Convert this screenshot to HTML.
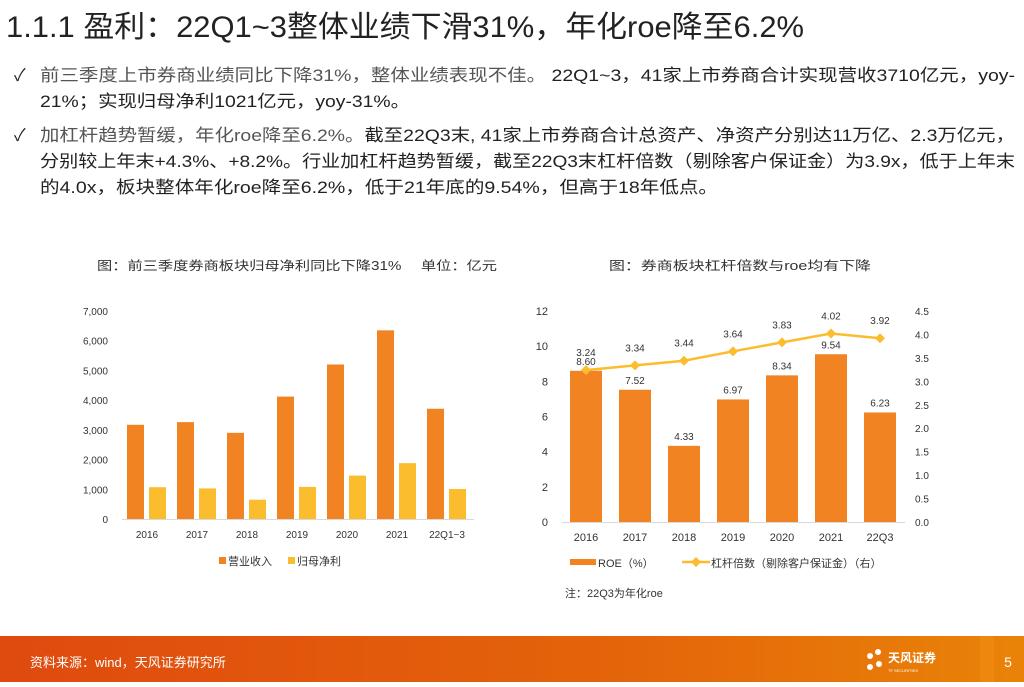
<!DOCTYPE html>
<html><head><meta charset="utf-8"><style>
body{margin:0;background:#fff;width:1024px;height:682px;overflow:hidden;font-family:"Liberation Sans","Noto Sans CJK SC",sans-serif}
svg text{font-family:"Liberation Sans","Noto Sans CJK SC",sans-serif}
</style></head><body>
<svg id="s" width="1024" height="682" viewBox="0 0 1024 682" xmlns="http://www.w3.org/2000/svg">
<defs><linearGradient id="fg" x1="0" x2="1"><stop offset="0" stop-color="#df4a0f"/><stop offset="0.6" stop-color="#e4640a"/><stop offset="1" stop-color="#e98308"/></linearGradient></defs>
<text x="6" y="37" font-size="30" fill="#222" textLength="798" lengthAdjust="spacingAndGlyphs">1.1.1 盈利：22Q1~3整体业绩下滑31%，年化roe降至6.2%</text>
<g font-size="17" fill="#222">
<text x="14" y="81">✓</text>
<text x="40" y="81" textLength="975" lengthAdjust="spacingAndGlyphs"><tspan fill="#555">前三季度上市券商业绩同比下降31%，整体业绩表现不佳。</tspan> 22Q1~3，41家上市券商合计实现营收3710亿元，yoy-</text>
<text x="40" y="107" textLength="370" lengthAdjust="spacingAndGlyphs">21%；实现归母净利1021亿元，yoy-31%。</text>
<text x="14" y="141">✓</text>
<text x="40" y="141" textLength="975" lengthAdjust="spacingAndGlyphs"><tspan fill="#555">加杠杆趋势暂缓，年化roe降至6.2%。</tspan>截至22Q3末, 41家上市券商合计总资产、净资产分别达11万亿、2.3万亿元，</text>
<text x="40" y="167" textLength="975" lengthAdjust="spacingAndGlyphs">分别较上年末+4.3%、+8.2%。行业加杠杆趋势暂缓，截至22Q3末杠杆倍数（剔除客户保证金）为3.9x，低于上年末</text>
<text x="40" y="193" textLength="678" lengthAdjust="spacingAndGlyphs">的4.0x，板块整体年化roe降至6.2%，低于21年底的9.54%，但高于18年低点。</text>
</g>
<text x="97" y="270" font-size="12.5" fill="#333" textLength="400" lengthAdjust="spacingAndGlyphs">图：前三季度券商板块归母净利同比下降31%　 单位：亿元</text>
<text x="609" y="270" font-size="12.5" fill="#333" textLength="262" lengthAdjust="spacingAndGlyphs">图：券商板块杠杆倍数与roe均有下降</text>
<g id="c1"></g>
<g id="c2"></g>
<rect x="0" y="636" width="1024" height="46" fill="url(#fg)"/>
<rect x="980" y="636" width="14" height="46" fill="#f08a10" opacity="0.7"/>
<text x="30" y="667" font-size="13" fill="#fff">资料来源：wind，天风证券研究所</text>
<g><circle cx="870" cy="656" r="3" fill="#fff"/><circle cx="878" cy="652" r="3" fill="#fff"/><circle cx="870" cy="667" r="3" fill="#fff"/><circle cx="879" cy="664" r="3" fill="#fff"/>
<text x="888" y="662" font-size="12" fill="#fff" font-weight="bold">天风证券</text><text x="888" y="672" font-size="4" fill="#fff">TF SECURITIES</text></g>
<text x="1008" y="667" font-size="14" fill="#fff" text-anchor="middle">5</text>
</svg>
<script>
const NS='http://www.w3.org/2000/svg';
function mk(p,t,a,txt){const e=document.createElementNS(NS,t);for(const k in a)e.setAttribute(k,a[k]);if(txt!==undefined)e.textContent=txt;p.appendChild(e);return e;}
// left chart data
const cats1=['2016','2017','2018','2019','2020','2021','22Q1~3'];
const revenue=[3170,3260,2900,4120,5200,6350,3710];
const netProfit=[1070,1030,650,1080,1460,1880,1010];
const ticks1=[0,1000,2000,3000,4000,5000,6000,7000];
const tickLabels1=['0','1,000','2,000','3,000','4,000','5,000','6,000','7,000'];
// right chart data
const cats2=['2016','2017','2018','2019','2020','2021','22Q3'];
const roe=[8.60,7.52,4.33,6.97,8.34,9.54,6.23];
const leverage=[3.24,3.34,3.44,3.64,3.83,4.02,3.92];
const ticksL=[0,2,4,6,8,10,12];
const ticksR=[0,0.5,1.0,1.5,2.0,2.5,3.0,3.5,4.0,4.5];

const g1=document.getElementById('c1');
const y1=v=>519-v*208/7000, x1=i=>122+50*i;
ticks1.forEach((t,i)=>{const e=mk(g1,'text',{x:108,y:y1(t)+4,'font-size':10,fill:'#333','text-anchor':'end'},tickLabels1[i]);

});
mk(g1,'line',{x1:122,x2:474,y1:519.5,y2:519.5,stroke:'#d9d9d9'});
cats1.forEach((c,i)=>{
 const r=mk(g1,'rect',{x:x1(i)+5,y:y1(revenue[i]),width:17,height:519-y1(revenue[i]),fill:'#f28322'});
 
 
 const p=mk(g1,'rect',{x:x1(i)+27,y:y1(netProfit[i]),width:17,height:519-y1(netProfit[i]),fill:'#fbbc2d'});
 
 
 const l=mk(g1,'text',{x:x1(i)+25,y:538,'font-size':10,fill:'#333','text-anchor':'middle'},c);
 
 
});
const lg1=mk(g1,'g',{});


mk(lg1,'rect',{x:219,y:557,width:7,height:7,fill:'#f28322'});
mk(lg1,'text',{x:228,y:565,'font-size':11,fill:'#333'},'营业收入');
mk(lg1,'rect',{x:288,y:557,width:7,height:7,fill:'#fbbc2d'});
mk(lg1,'text',{x:297,y:565,'font-size':11,fill:'#333'},'归母净利');

const g2=document.getElementById('c2');
const y2=v=>522-v*211/12, yr=v=>522-v*211/4.5, x2=i=>586+49*i;
ticksL.forEach(t=>{const e=mk(g2,'text',{x:548,y:y2(t)+4,'font-size':11,fill:'#333','text-anchor':'end'},String(t));

});
ticksR.forEach(t=>{const e=mk(g2,'text',{x:915,y:yr(t)+4,'font-size':10,fill:'#333'},t.toFixed(1));

});
mk(g2,'line',{x1:562,x2:905,y1:522.5,y2:522.5,stroke:'#d9d9d9'});
cats2.forEach((c,i)=>{
 const r=mk(g2,'rect',{x:x2(i)-16,y:y2(roe[i]),width:32,height:522-y2(roe[i]),fill:'#f28322'});
 
 
 const v=mk(g2,'text',{x:x2(i),y:y2(roe[i])-6,'font-size':10,fill:'#333','text-anchor':'middle'},roe[i].toFixed(2));
 
 
 const l=mk(g2,'text',{x:x2(i),y:541,'font-size':11,fill:'#333','text-anchor':'middle'},c);
 
 
});
const pts=leverage.map((v,i)=>x2(i)+','+yr(v)).join(' ');
const ln=mk(g2,'polyline',{points:pts,fill:'none',stroke:'#fbbc2d','stroke-width':2.5});


leverage.forEach((v,i)=>{
 const cx=x2(i),cy=yr(v);
 const d=mk(g2,'polygon',{points:`${cx},${cy-5} ${cx+5},${cy} ${cx},${cy+5} ${cx-5},${cy}`,fill:'#fbbc2d'});
 
 
 const t=mk(g2,'text',{x:cx,y:cy-14,'font-size':10,fill:'#333','text-anchor':'middle'},v.toFixed(2));
 
 
});
const lg2=mk(g2,'g',{});


mk(lg2,'rect',{x:570,y:559,width:26,height:6,fill:'#f28322'});
mk(lg2,'text',{x:598,y:567,'font-size':11,fill:'#333'},'ROE（%）');
mk(lg2,'line',{x1:682,x2:710,y1:562,y2:562,stroke:'#fbbc2d','stroke-width':2.5});
mk(lg2,'polygon',{points:'696,557 701,562 696,567 691,562',fill:'#fbbc2d'});
mk(lg2,'text',{x:711,y:567,'font-size':11,fill:'#333'},'杠杆倍数（剔除客户保证金）（右）');
const nt=mk(g2,'text',{x:565,y:597,'font-size':11,fill:'#333'},'注：22Q3为年化roe');


</script>
</body></html>
